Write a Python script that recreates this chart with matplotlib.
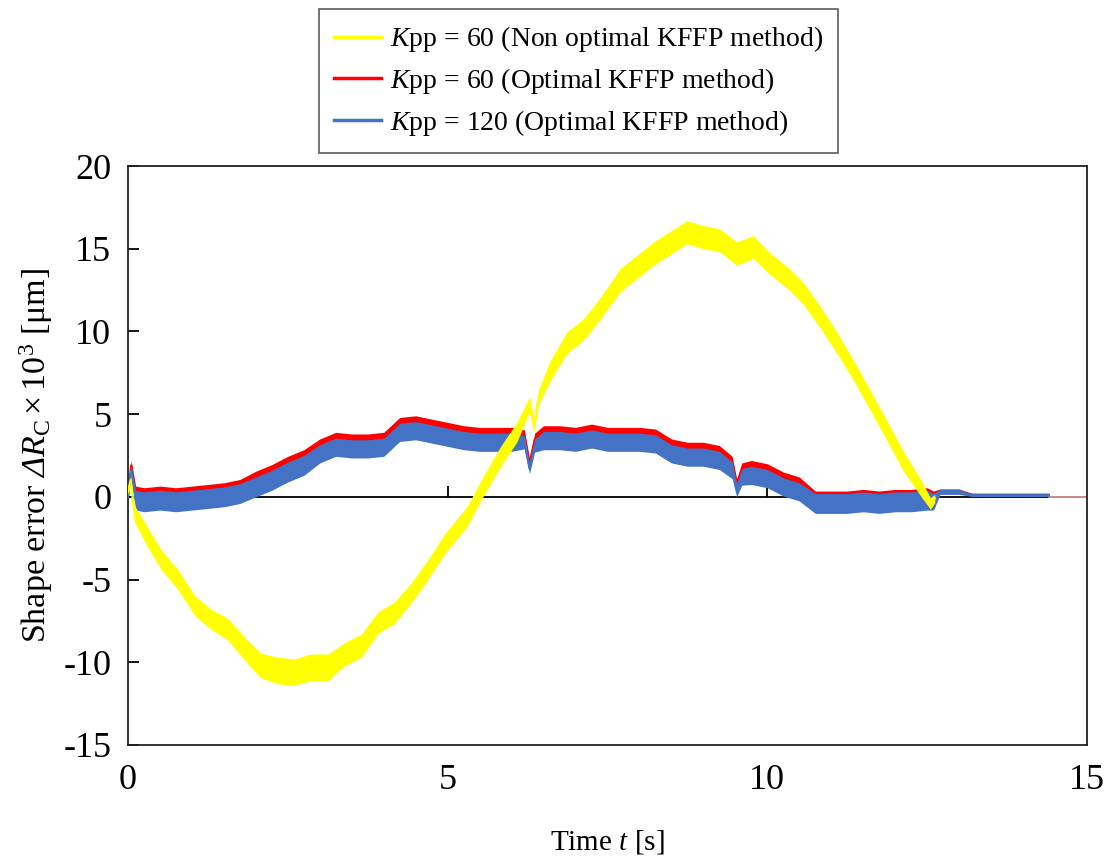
import matplotlib
matplotlib.use("Agg")
import matplotlib.pyplot as plt
import numpy as np

plt.rcParams['font.family'] = ['Liberation Serif', 'DejaVu Serif']
plt.rcParams['mathtext.fontset'] = 'custom'
plt.rcParams['mathtext.rm'] = 'Liberation Serif'
plt.rcParams['mathtext.it'] = 'Liberation Serif:italic'
plt.rcParams['mathtext.sf'] = 'Liberation Serif:italic'
plt.rcParams['axes.unicode_minus'] = False

# ---- data ----
t_yellow = [0.0, 0.04, 0.1, 0.3, 0.52, 0.78, 1.05, 1.3, 1.56, 1.83, 2.08, 2.35, 2.6, 2.86,
            3.13, 3.39, 3.65, 3.91, 4.17, 4.43, 4.69, 4.96, 5.3, 5.55, 5.82, 6.08, 6.28,
            6.35, 6.42, 6.6, 6.86, 7.12, 7.33, 7.7, 8.22, 8.74, 9.0, 9.26, 9.52, 9.78,
            10.04, 10.3, 10.56, 10.82, 11.09, 11.34, 11.6, 11.87, 12.12, 12.39, 12.55, 12.62]
v_yellow = [0.3, 1.0, -1.0, -2.4, -3.8, -5.0, -6.6, -7.4, -8.0, -9.2, -10.2, -10.5, -10.6, -10.3,
            -10.3, -9.5, -9.0, -7.6, -7.0, -5.8, -4.4, -2.8, -1.2, 0.6, 2.4, 3.9, 5.6,
            4.3, 6.0, 7.6, 9.3, 10.1, 11.1, 13.1, 14.7, 16.0, 15.7, 15.5, 14.7, 15.1,
            14.1, 13.3, 12.3, 10.9, 9.3, 7.7, 5.9, 4.0, 2.2, 0.6, -0.4, -0.1]
a_yellow = [0.2, 0.3, 0.5, 0.6, 0.6, 0.6, 0.6, 0.6, 0.65, 0.7, 0.75, 0.8, 0.8, 0.8,
            0.8, 0.7, 0.7, 0.65, 0.65, 0.6, 0.6, 0.6, 0.6, 0.6, 0.6, 0.6, 0.45,
            0.4, 0.45, 0.6, 0.65, 0.65, 0.65, 0.7, 0.7, 0.7, 0.7, 0.7, 0.7, 0.7,
            0.65, 0.65, 0.65, 0.65, 0.65, 0.6, 0.6, 0.6, 0.6, 0.5, 0.35, 0.25]

t_opt = [0.0, 0.05, 0.12, 0.25, 0.5, 0.75, 1.0, 1.25, 1.5, 1.75,
         2.0, 2.25, 2.5, 2.75, 3.0, 3.25, 3.5, 3.75, 4.0, 4.25,
         4.5, 4.75, 5.0, 5.25, 5.5, 5.75, 6.0, 6.2, 6.28, 6.36,
         6.5, 6.75, 7.0, 7.25, 7.5, 7.75, 8.0, 8.25, 8.5, 8.75,
         9.0, 9.25, 9.45, 9.52, 9.6, 9.75, 10.0, 10.25, 10.5, 10.75,
         11.0, 11.25, 11.5, 11.75, 12.0, 12.25, 12.5, 12.6, 12.7, 13.0,
         13.2, 13.5, 14.0, 14.4]
v_blue = [0.0, 1.6, -0.2, -0.3, -0.2, -0.3, -0.2, -0.1, 0.0, 0.2,
          0.6, 1.0, 1.5, 1.9, 2.6, 3.0, 2.9, 2.9, 3.0, 3.9,
          4.0, 3.8, 3.6, 3.4, 3.3, 3.3, 3.3, 3.3, 1.7, 3.1,
          3.4, 3.4, 3.3, 3.5, 3.3, 3.3, 3.3, 3.2, 2.6, 2.4,
          2.4, 2.2, 1.6, 0.4, 1.2, 1.3, 1.1, 0.6, 0.3, -0.4,
          -0.4, -0.4, -0.3, -0.4, -0.3, -0.3, -0.2, -0.3, 0.3, 0.3,
          0.1, 0.1, 0.1, 0.1]
v_red = [0.0, 1.9, 0.05, -0.05, 0.05, -0.05, 0.05, 0.15, 0.25, 0.45,
         0.95, 1.35, 1.85, 2.25, 2.95, 3.35, 3.25, 3.25, 3.35, 4.25,
         4.35, 4.15, 3.95, 3.75, 3.65, 3.65, 3.65, 3.65, 2.0, 3.45,
         3.75, 3.75, 3.65, 3.85, 3.65, 3.65, 3.65, 3.55, 2.95, 2.75,
         2.75, 2.55, 1.95, 0.7, 1.55, 1.65, 1.45, 0.95, 0.65, -0.25,
         -0.25, -0.25, -0.15, -0.25, -0.15, -0.15, -0.05, -0.15, 0.33, 0.33,
         0.13, 0.13, 0.13, 0.13]
a_opt = [0.2, 0.3, 0.6, 0.6, 0.6, 0.6, 0.6, 0.6, 0.6, 0.6,
         0.6, 0.6, 0.6, 0.6, 0.55, 0.55, 0.55, 0.55, 0.55, 0.55,
         0.55, 0.55, 0.55, 0.55, 0.55, 0.55, 0.55, 0.4, 0.3, 0.4,
         0.55, 0.55, 0.55, 0.55, 0.55, 0.55, 0.55, 0.55, 0.55, 0.55,
         0.55, 0.55, 0.5, 0.4, 0.5, 0.55, 0.55, 0.55, 0.55, 0.6,
         0.6, 0.6, 0.6, 0.6, 0.6, 0.6, 0.6, 0.5, 0.15, 0.15,
         0.08, 0.08, 0.08, 0.08]
t_red_tail = [14.4, 15.0]
v_red_tail = [0.0, 0.0]

labels = [r'$K$pp = 60 (Non optimal KFFP method)',
          r'$K$pp = 60 (Optimal KFFP method)',
          r'$K$pp = 120 (Optimal KFFP method)']
colors = ['#FFFF00', '#FF0000', '#4472C4']

x_ticks = [0, 5, 10, 15]
y_ticks = [-15, -10, -5, 0, 5, 10, 15, 20]

# ---- figure ----
fig = plt.figure(figsize=(11.10, 8.57), dpi=100)
ax = fig.add_axes([0.1153, 0.1307, 0.864, 0.6756])

ax.axhline(0, color='black', lw=1.3, zorder=1)

def band(t, v, a, color, z):
    t = np.asarray(t); v = np.asarray(v); a = np.asarray(a)
    ax.fill_between(t, v - a, v + a, color=color, lw=0, zorder=z)
    line, = ax.plot(t, v, color=color, lw=1.5, zorder=z + 0.1)
    return line

ax.plot(t_red_tail, v_red_tail, color='#F4A0A0', lw=1.2, zorder=2)
h_red = band(t_opt, v_red, a_opt, colors[1], 2)
h_blue = band(t_opt, v_blue, a_opt, colors[2], 3)
h_yel = band(t_yellow, v_yellow, a_yellow, colors[0], 4)

ax.set_xlim(0, 15)
ax.set_ylim(-15, 20)
ax.set_xticks(x_ticks)
ax.set_yticks(y_ticks)
ax.tick_params(axis='x', length=0, pad=14, labelsize=26)
ax.tick_params(axis='y', direction='in', length=8, width=1.3, pad=12, labelsize=26)
for s in ax.spines.values():
    s.set_linewidth(1.3)
    s.set_color('#222222')

# ticks on the zero line
sec = ax.secondary_xaxis(15 / 35)
sec.set_xticks([5, 10])
sec.tick_params(direction='in', length=8, width=1.3, labelbottom=False, labeltop=False)
sec.spines['bottom'].set_visible(False)
sec.spines['top'].set_visible(False)

ax.set_xlabel(r'Time $t$ [s]', fontsize=21, labelpad=22)
ax.set_ylabel(r'Shape error $\mathsf{\Delta R}_{\mathrm{C}}\times 10^{3}$ [μm]',
              fontsize=24.5, labelpad=6)

leg = fig.legend([h_yel, h_red, h_blue], labels, loc='upper center',
                 bbox_to_anchor=(0.521, 0.9895), borderaxespad=0.0, fontsize=20,
                 frameon=True, fancybox=False, edgecolor='#333333', handlelength=1.7,
                 labelspacing=0.42, borderpad=0.55, handletextpad=0.3)
leg.get_frame().set_linewidth(1.2)
for l in leg.get_lines():
    l.set_linewidth(2.5)

fig.savefig('out.png', dpi=100)
